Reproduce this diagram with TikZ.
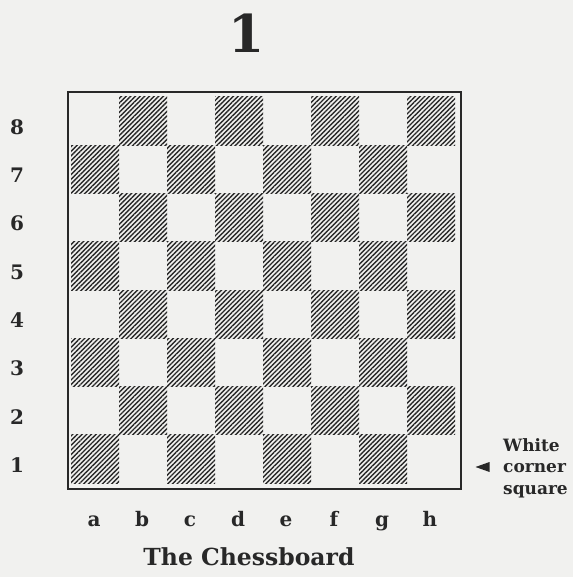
\documentclass[tikz,border=0pt]{standalone}
\usepackage{fontspec}
\setmainfont{DejaVu Serif}
\usetikzlibrary{patterns.meta,shapes.geometric}
\definecolor{paper}{RGB}{241,241,239}
\definecolor{ink}{RGB}{40,40,40}
\begin{document}
\begin{tikzpicture}[x=1pt,y=-1pt,
  lab/.style={font=\bfseries\fontsize{20}{20}\selectfont, text=ink, inner sep=0pt},
  darksq/.style={pattern={Lines[angle=45,distance=3.3pt,line width=1.4pt]}, pattern color=ink},
  boardframe/.style={draw=ink,line width=2.2pt}]
\fill[paper] (0,0) rectangle (573,577);
\useasboundingbox (0,0) rectangle (573,577);
% squares
\foreach \i in {1,...,8}{
  \foreach \j in {1,...,8}{
    \pgfmathtruncatemacro\s{\i+\j}
    \ifodd\s\else
      \path[darksq] ({71+(\i-1)*48},{97+(8-\j)*48.25}) rectangle ++(48,48.25);
    \fi
  }
}
\node[boardframe, anchor=north west, minimum width=393pt, minimum height=397pt, inner sep=0pt] (board) at (67,91) {};
% title
\node[font=\bfseries\fontsize{52}{52}\selectfont, text=ink, inner sep=0pt] (num) at (247,33) {1};
% ranks
\foreach \r in {1,...,8}{
  \node[lab] (rank\r) at (17,{97+(8-\r+0.5)*48.25+6}) {\r};
}
% files
\foreach \f [count=\k] in {a,b,c,d,e,f,g,h}{
  \node[lab, anchor=base] (file\f) at ({71+(\k-0.5)*48-1},526) {\f};
}
\node[font=\bfseries\fontsize{23.5}{23.5}\selectfont, text=ink, inner sep=0pt, anchor=base] (caption) at (249,565) {The Chessboard};
% arrow and note
\node[isosceles triangle, shape border rotate=180, fill=ink, inner sep=0pt, minimum height=14pt, minimum width=10pt, isosceles triangle stretches] (tip) at (486,467) {};
\node[font=\bfseries\fontsize{17}{21.5}\selectfont, text=ink, inner sep=0pt, align=left, anchor=west] (note) at (503,468) {White\\corner\\square};
\end{tikzpicture}
\end{document}
